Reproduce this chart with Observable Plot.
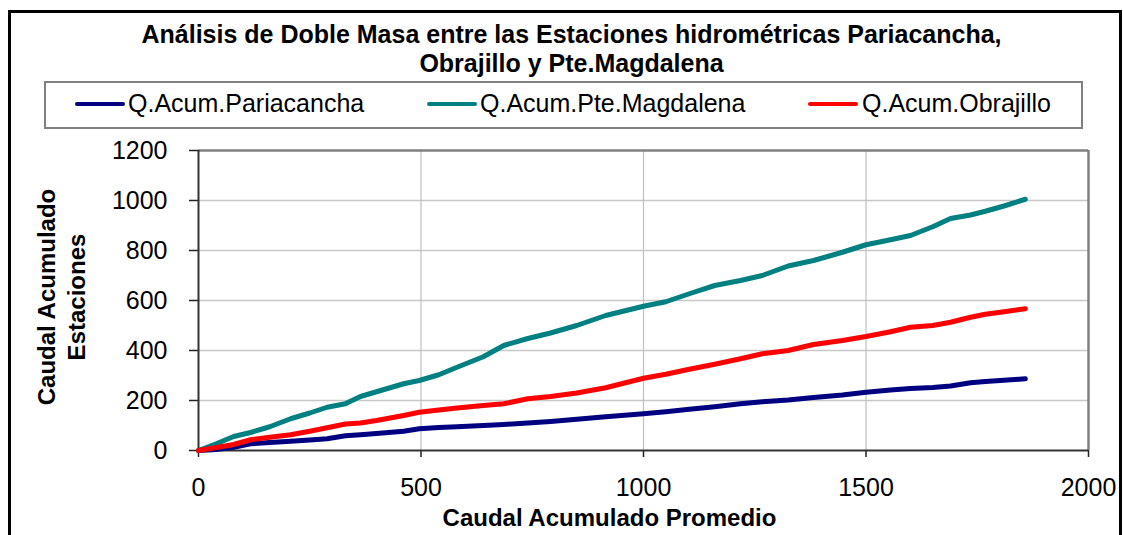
<!DOCTYPE html>
<html>
<head>
<meta charset="utf-8">
<script src="https://cdn.jsdelivr.net/npm/d3@7"></script>
<script src="https://cdn.jsdelivr.net/npm/@observablehq/plot@0.6"></script>
<style>
  body { margin: 0; background: #fff; font-family: "Liberation Sans", Arial, sans-serif; }
  #wrap { position: relative; width: 1123px; height: 535px; overflow: hidden; background: #fff; }
  #frame { position: absolute; left: 8px; top: 10px; width: 1108px; height: 600px; border: 3px solid #000; box-sizing: content-box; }
  .title { position: absolute; left: 0; width: 1143px; text-align: center; font-weight: bold; font-size: 25px; line-height: 28.5px; top: 20px; color: #000; white-space: nowrap; }
  #legend { position: absolute; left: 44px; top: 81px; width: 1035px; height: 44px; border: 2px solid #808080; }
  .sw { position: absolute; height: 4px; top: 101.5px; width: 50px; border-radius: 2px; }
  .lt { position: absolute; top: 91px; font-size: 25px; line-height: 25px; color: #000; white-space: nowrap; }
  #plot { position: absolute; left: 0; top: 140px; }
  #xtitle { position: absolute; left: 309.5px; width: 600px; text-align: center; top: 506.4px; font-weight: bold; font-size: 24px; line-height: 24px; color: #000; }
  #ytitle { position: absolute; left: -88.3px; top: 267px; width: 300px; height: 60px; text-align: center; font-weight: bold; font-size: 24px; line-height: 30px; transform: rotate(-90deg); color: #000; }
</style>
</head>
<body>
<div id="wrap">
  <div id="frame"></div>
  <div class="title" id="title"></div>
  <div id="legend"></div>
  <div id="legendItems"></div>
  <div id="plot"></div>
  <div id="xtitle"></div>
  <div id="ytitle"></div>
</div>
<script>
// ---- Text ----
const titleLines = ["Análisis de Doble Masa entre las Estaciones hidrométricas Pariacancha,", "Obrajillo y Pte.Magdalena"];
const xTitle = "Caudal Acumulado Promedio";
const yTitleLines = ["Caudal Acumulado", "Estaciones"];

// ---- Series ----
const seriesNames = ["Q.Acum.Pariacancha", "Q.Acum.Pte.Magdalena", "Q.Acum.Obrajillo"];
const seriesColors = ["#000080", "#008080", "#ff0000"];

// Caudal acumulado promedio (x)
const qPromedio = [0, 40, 79, 117, 160, 207, 250, 289, 330, 364, 400, 461, 496, 540, 581, 640, 686, 740, 791, 850, 915, 1000, 1050, 1103, 1160, 1218, 1267, 1325, 1382, 1447, 1500, 1555, 1600, 1650, 1690, 1735, 1768, 1810, 1858];
const qPariacancha = [0, 4, 13, 27, 32, 37, 42, 47, 59, 63, 68, 77, 87, 92, 95, 100, 104, 110, 116, 125, 135, 147, 155, 165, 175, 187, 195, 202, 212, 222, 233, 242, 248, 252, 258, 271, 276, 281, 287];
const qPteMagdalena = [0, 27, 56, 72, 95, 127, 150, 173, 187, 216, 235, 267, 280, 303, 333, 375, 420, 448, 470, 500, 540, 577, 595, 627, 660, 680, 700, 738, 760, 793, 823, 843, 860, 895, 928, 942, 957, 978, 1005];
const qObrajillo = [0, 12, 24, 43, 53, 63, 77, 91, 106, 110, 120, 140, 153, 162, 170, 180, 187, 207, 216, 230, 251, 289, 305, 325, 345, 367, 387, 400, 424, 440, 456, 475, 493, 500, 513, 533, 545, 555, 567];

// ---- Axis ticks ----
const xTicks = [0, 500, 1000, 1500, 2000];
const yTicks = [0, 200, 400, 600, 800, 1000, 1200];

// ---- Build table ----
const seriesValues = [qPariacancha, qPteMagdalena, qObrajillo];
const rows = [];
seriesNames.forEach((name, s) => {
  qPromedio.forEach((x, i) => rows.push({ x, y: seriesValues[s][i], serie: name }));
});

// ---- HTML text ----
document.getElementById("title").innerHTML = titleLines.map(t => `<div>${t}</div>`).join("");
document.getElementById("xtitle").textContent = xTitle;
document.getElementById("ytitle").innerHTML = yTitleLines.map(t => `<div>${t}</div>`).join("");

const swLeft = [75, 427, 808];
const txtLeft = [128, 480, 862];
const li = document.getElementById("legendItems");
seriesNames.forEach((name, i) => {
  const sw = document.createElement("div");
  sw.className = "sw";
  sw.style.left = swLeft[i] + "px";
  sw.style.background = seriesColors[i];
  li.appendChild(sw);
  const t = document.createElement("div");
  t.className = "lt";
  t.style.left = txtLeft[i] + "px";
  t.textContent = name;
  li.appendChild(t);
});

// ---- Plot ----
const fmt = d => String(d);
const chart = Plot.plot({
  width: 1123,
  height: 395,
  marginTop: 10,
  marginLeft: 198,
  marginRight: 35,
  marginBottom: 85,
  style: { fontSize: "25px", fontFamily: "Liberation Sans, Arial, sans-serif", color: "#000", background: "transparent", overflow: "visible" },
  x: { domain: [0, 2000] },
  y: { domain: [0, 1200] },
  color: { domain: seriesNames, range: seriesColors },
  marks: [
    Plot.gridY(yTicks.slice(1, -1), { stroke: "#c8c8c8", strokeOpacity: 1, strokeWidth: 1.5 }),
    Plot.gridX(xTicks.slice(1, -1), { stroke: "#c0c0c0", strokeOpacity: 1, strokeWidth: 1.2 }),
    Plot.ruleY([1200], { stroke: "#808080", strokeWidth: 2.5 }),
    Plot.ruleX([2000], { stroke: "#808080", strokeWidth: 2.5 }),
    Plot.axisY(yTicks, { tickSize: 9, tickPadding: 22, label: null, stroke: "#222", strokeWidth: 1.5, tickFormat: fmt }),
    Plot.axisX(xTicks, { tickSize: 7, tickPadding: 21, label: null, stroke: "#222", strokeWidth: 1.5, tickFormat: fmt }),
    Plot.ruleX([0], { stroke: "#333", strokeWidth: 2 }),
    Plot.ruleY([0], { stroke: "#333", strokeWidth: 2 }),
    Plot.line(rows, { x: "x", y: "y", z: "serie", stroke: "serie", strokeWidth: 5, strokeLinecap: "round", strokeLinejoin: "round" })
  ]
});
document.getElementById("plot").appendChild(chart);
</script>
</body>
</html>
